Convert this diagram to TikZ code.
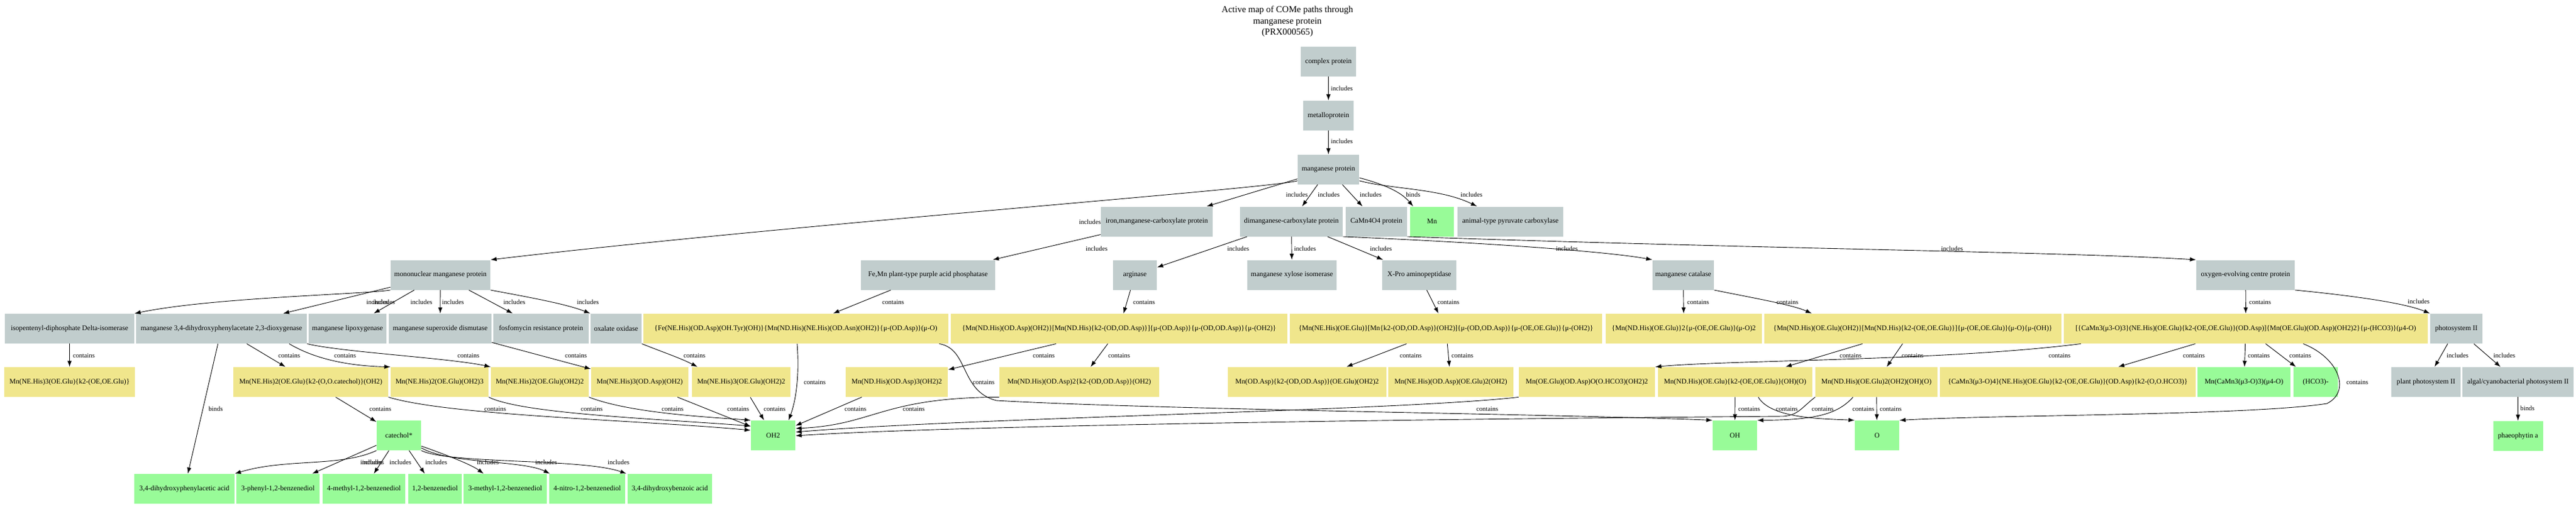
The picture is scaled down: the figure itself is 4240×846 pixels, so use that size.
\documentclass[tikz,border=0pt]{standalone}
\usepackage{fontspec}
\setmainfont{Liberation Serif}
\usepackage{tikz}
\usetikzlibrary{positioning,arrows.meta}

\definecolor{protgrey}{RGB}{193,205,205}
\definecolor{cmplxyellow}{RGB}{240,230,140}
\definecolor{chemgreen}{RGB}{152,251,152}

\tikzset{
  prot/.style={rectangle, fill=protgrey, minimum height=49pt, inner sep=0pt, font=\fontsize{11.7pt}{14pt}\selectfont},
  cmplx/.style={prot, fill=cmplxyellow},
  chem/.style={prot, fill=chemgreen},
  lbl/.style={inner sep=0pt, font=\fontsize{10.8pt}{13pt}\selectfont},
  >={Latex[length=10pt,width=7pt]}
}

\begin{document}
\begin{tikzpicture}[x=1pt, y=1pt, line width=0.9pt]
      \useasboundingbox (0,0) rectangle (4240,-846);

      \node[align=center, font=\fontsize{15pt}{18.7pt}\selectfont] (title) at (2119,-35.5) {Active map of COMe paths through\\manganese protein\\(PRX000565)};
      \node[prot, minimum width=91pt] (complex) at (2186.5,-101.5) {complex protein};
      \node[prot, minimum width=83pt] (metallo) [below = 39pt of complex] {metalloprotein};
      \node[prot, minimum width=101pt] (mp) [below = 39pt of metallo] {manganese protein};

      \node[prot, minimum width=184pt] (ironMn) at (1904,-365) {iron,manganese-carboxylate protein};
      \node[prot, minimum width=169pt] (dimn) at (2125.5,-365) {dimanganese-carboxylate protein};
      \node[prot, minimum width=101pt] (camn) at (2265.5,-365) {CaMn4O4 protein};
      \node[chem, minimum width=72pt] (mn) at (2357,-365) {Mn};
      \node[prot, minimum width=174pt] (pyruv) at (2486,-365) {animal-type pyruvate carboxylase};

      \node[prot, minimum width=164pt] (mono) at (725,-453) {mononuclear manganese protein};
      \node[prot, minimum width=221pt] (femnpap) at (1527.5,-453) {Fe,Mn plant-type purple acid phosphatase};
      \node[prot, minimum width=72pt] (arg) at (1868,-453) {arginase};
      \node[prot, minimum width=147pt] (xyl) at (2126.5,-453) {manganese xylose isomerase};
      \node[prot, minimum width=122pt] (xpro) at (2336,-453) {X-Pro aminopeptidase};
      \node[prot, minimum width=101pt] (cat) at (2770.5,-453) {manganese catalase};
      \node[prot, minimum width=162pt] (oec) at (3696,-453) {oxygen-evolving centre protein};

      \node[prot, minimum width=213pt] (ipp) at (114.5,-541.5) {isopentenyl-diphosphate Delta-isomerase};
      \node[prot, minimum width=281pt] (dhpao) at (364.5,-541.5) {manganese 3,4-dihydroxyphenylacetate 2,3-dioxygenase};
      \node[prot, minimum width=128pt] (lox) at (572,-541.5) {manganese lipoxygenase};
      \node[prot, minimum width=169pt] (sod) at (724.5,-541.5) {manganese superoxide dismutase};
      \node[prot, minimum width=157pt] (fos) at (890.5,-541.5) {fosfomycin resistance protein};
      \node[prot, minimum width=84pt] (oxo) at (1014,-541.5) {oxalate oxidase};
      \node[cmplx, minimum width=502pt] (cFe) at (1310,-541.5) {\{Fe(NE.His)(OD.Asp)(OH.Tyr)(OH)\}\{Mn(ND.His)(NE.His)(OD.Asn)(OH2)\}\{μ-(OD.Asp)\}(μ-O)};
      \node[cmplx, minimum width=554pt] (cArg) at (1842,-541.5) {\{Mn(ND.His)(OD.Asp)(OH2)\}[Mn(ND.His)\{k2-(OD,OD.Asp)\}]\{μ-(OD.Asp)\}\{μ-(OD,OD.Asp)\}\{μ-(OH2)\}};
      \node[cmplx, minimum width=514pt] (cXpro) at (2380,-541.5) {\{Mn(NE.His)(OE.Glu)\}[Mn\{k2-(OD,OD.Asp)\}(OH2)]\{μ-(OD,OD.Asp)\}\{μ-(OE,OE.Glu)\}\{μ-(OH2)\}};
      \node[cmplx, minimum width=257pt] (cCat1) at (2771.5,-541.5) {\{Mn(ND.His)(OE.Glu)\}2\{μ-(OE,OE.Glu)\}(μ-O)2};
      \node[cmplx, minimum width=489pt] (cCat2) at (3148.5,-541.5) {\{Mn(ND.His)(OE.Glu)(OH2)\}[Mn(ND.His)\{k2-(OE,OE.Glu)\}]\{μ-(OE,OE.Glu)\}(μ-O)\{μ-(OH)\}};
      \node[cmplx, minimum width=599pt] (cOec) at (3696.5,-541.5) {[\{CaMn3(μ3-O)3\}(NE.His)(OE.Glu)\{k2-(OE,OE.Glu)\}(OD.Asp)]\{Mn(OE.Glu)(OD.Asp)(OH2)2\}\{μ-(HCO3)\}(μ4-O)};
      \node[prot, minimum width=86pt] (psii) at (4043,-541.5) {photosystem II};

      \node[cmplx, minimum width=215pt] (m1) at (114.5,-629.5) {Mn(NE.His)3(OE.Glu)\{k2-(OE,OE.Glu)\}};
      \node[cmplx, minimum width=255pt] (m2) at (511.5,-629.5) {Mn(NE.His)2(OE.Glu)\{k2-(O,O.catechol)\}(OH2)};
      \node[cmplx, minimum width=161pt] (m3) at (723.5,-629.5) {Mn(NE.His)2(OE.Glu)(OH2)3};
      \node[cmplx, minimum width=161pt] (m4) at (888.5,-629.5) {Mn(NE.His)2(OE.Glu)(OH2)2};
      \node[cmplx, minimum width=160pt] (m5) at (1053,-629.5) {Mn(NE.His)3(OD.Asp)(OH2)};
      \node[cmplx, minimum width=162pt] (m6) at (1220,-629.5) {Mn(NE.His)3(OE.Glu)(OH2)2};
      \node[cmplx, minimum width=168pt] (m7) at (1476,-629.5) {Mn(ND.His)(OD.Asp)3(OH2)2};
      \node[cmplx, minimum width=263pt] (m8) at (1776.5,-629.5) {Mn(ND.His)(OD.Asp)2\{k2-(OD,OD.Asp)\}(OH2)};
      \node[cmplx, minimum width=261pt] (m9) at (2151.5,-629.5) {Mn(OD.Asp)\{k2-(OD,OD.Asp)\}(OE.Glu)(OH2)2};
      \node[cmplx, minimum width=206pt] (m10) at (2388,-629.5) {Mn(NE.His)(OD.Asp)(OE.Glu)2(OH2)};
      \node[cmplx, minimum width=224pt] (m11) at (2612,-629.5) {Mn(OE.Glu)(OD.Asp)O(O.HCO3)(OH2)2};
      \node[cmplx, minimum width=254pt] (m12) at (2856,-629.5) {Mn(ND.His)(OE.Glu)\{k2-(OE,OE.Glu)\}(OH)(O)};
      \node[cmplx, minimum width=201pt] (m13) at (3088.5,-629.5) {Mn(ND.His)(OE.Glu)2(OH2)(OH)(O)};
      \node[cmplx, minimum width=421pt] (m14) at (3403.5,-629.5) {\{CaMn3(μ3-O)4\}(NE.His)(OE.Glu)\{k2-(OE,OE.Glu)\}(OD.Asp)\{k2-(O,O.HCO3)\}};
      \node[chem, minimum width=153pt] (m15) at (3693.5,-629.5) {Mn(CaMn3(μ3-O)3)(μ4-O)};
      \node[chem, minimum width=73pt] (m16) at (3811.5,-629.5) {(HCO3)-};
      \node[prot, minimum width=114pt] (ppsii) at (3993,-629.5) {plant photosystem II};
      \node[prot, minimum width=183pt] (apsii) at (4144.5,-629.5) {algal/cyanobacterial photosystem II};

      \node[chem, minimum width=73pt] (catechol) at (656.5,-717.5) {catechol*};
      \node[chem, minimum width=73pt] (OH2) at (1272.5,-717.5) {OH2};
      \node[chem, minimum width=73pt] (OH) at (2855.5,-717.5) {OH};
      \node[chem, minimum width=73pt] (O) at (3089.5,-717.5) {O};
      \node[chem, minimum width=82pt] (phaeo) [below = 39pt of apsii] {phaeophytin a};

      \node[chem, minimum width=165pt] (c1) at (303.5,-805.5) {3,4-dihydroxyphenylacetic acid};
      \node[chem, minimum width=137pt] (c2) at (457.5,-805.5) {3-phenyl-1,2-benzenediol};
      \node[chem, minimum width=136pt] (c3) at (599,-805.5) {4-methyl-1,2-benzenediol};
      \node[chem, minimum width=88pt] (c4) at (716,-805.5) {1,2-benzenediol};
      \node[chem, minimum width=137pt] (c5) at (831.5,-805.5) {3-methyl-1,2-benzenediol};
      \node[chem, minimum width=125pt] (c6) at (966.5,-805.5) {4-nitro-1,2-benzenediol};
      \node[chem, minimum width=139pt] (c7) at (1102.5,-805.5) {3,4-dihydroxybenzoic acid};

      % proteins
      \draw (complex) edge[->] (metallo);
      \draw (metallo) edge[->] (mp);
      \draw[->] (mp.200) .. controls (2100,-310) and (1300,-370) .. (mono.north east);
      \draw (mp) edge[->] (ironMn);
      \draw (mp) edge[->] (dimn);
      \draw (mp) edge[->] (camn);
      \draw[->] (mp.345) .. controls (2275,-303) and (2305,-315) .. (mn.north -| 2326,0);
      \draw[->] (mp.340) .. controls (2290,-312) and (2370,-310) .. (pyruv.north -| 2431,0);
      \draw (ironMn) edge[->] (femnpap);
      \draw (dimn) edge[->] (arg);
      \draw (dimn) edge[->] (xyl);
      \draw (dimn) edge[->] (xpro);
      \draw[->] (dimn.south east) .. controls (2450,-400) and (2650,-415) .. (cat.north west);
      \draw[->] (camn.south east) .. controls (2900,-410) and (3400,-415) .. (oec.north west);
      \draw[->] (mono.south west) .. controls (600,-485) and (350,-490) .. (ipp.north east);
      \draw (mono) edge[->] (dhpao);
      \draw (mono) edge[->] (lox);
      \draw (mono) edge[->] (sod);
      \draw (mono) edge[->] (fos);
      \draw[->] (mono.south east) .. controls (860,-488) and (930,-500) .. (oxo.north west);
      \draw (femnpap) edge[->] (cFe);
      \draw (arg) edge[->] (cArg);
      \draw (xpro) edge[->] (cXpro);
      \draw (cat) edge[->] (cCat1);
      \draw[->] (cat.south east) .. controls (2880,-490) and (2950,-502) .. (cCat2.north -| 2982,0);
      \draw (oec) edge[->] (cOec);
      \draw[->] (oec.south east) .. controls (3880,-488) and (3960,-500) .. (psii.north west);
      \draw (psii) edge[->] (ppsii);
      \draw (psii) edge[->] (apsii);
      \draw (apsii) edge[->] (phaeo);

      % sites
      \draw (ipp) edge[->] (m1);
      \draw (dhpao) edge[->] (c1);
      \draw (dhpao) edge[->] (m2);
      \draw[->] (dhpao.south -| 476,0) .. controls (515,-590) and (570,-603) .. (m3.north west);
      \draw[->] (dhpao.south east) .. controls (560,-580) and (740,-590) .. (m4.north west);
      \draw (sod) edge[->] (m5);
      \draw[->] (oxo.south east) .. controls (1090,-580) and (1120,-590) .. (m6.north -| 1148,0);
      \draw[->] (cFe.south -| 1312,0) .. controls (1316,-620) and (1310,-660) .. (OH2.north -| 1298,0);
      \draw[->] (cFe.south -| 1546,0) .. controls (1595,-575) and (1580,-645) .. (1640,-660) .. controls (1900,-675) and (2600,-683) .. (OH.north west);
      \draw (cArg) edge[->] (m7);
      \draw (cArg) edge[->] (m8);
      \draw (cXpro) edge[->] (m9);
      \draw (cXpro) edge[->] (m10);
      \draw (cCat2) edge[->] (m12);
      \draw (cCat2) edge[->] (m13);
      \draw[->] (cOec.south -| 3425,0) .. controls (3200,-595) and (2850,-593) .. (m11.north east);
      \draw (cOec) edge[->] (m14);
      \draw (cOec) edge[->] (m15);
      \draw (cOec) edge[->] (m16);
      \draw[->] (cOec.south -| 3791,0) .. controls (3850,-590) and (3870,-645) .. (3830,-665) .. controls (3700,-685) and (3300,-683) .. (O.north east);

      % ligands
      \draw (m2) edge[->] (catechol);
      \draw[->] (m2.south east) .. controls (740,-685) and (1050,-692) .. (OH2.west |- 0,-709);
      \draw[->] (m3.south east) .. controls (860,-682) and (1080,-690) .. (OH2.west |- 0,-702);
      \draw[->] (m4.south east) .. controls (1040,-682) and (1180,-688) .. (OH2.north west);
      \draw (m5) edge[->] (OH2);
      \draw (m6) edge[->] (OH2);
      \draw (m7) edge[->] (OH2);
      \draw[->] (m8.south west) .. controls (1450,-655) and (1440,-700) .. (OH2.east |- 0,-706);
      \draw[->] (m11.south west) .. controls (2300,-677) and (1600,-688) .. (OH2.east |- 0,-712);
      \draw[->] (m13.south west) .. controls (2965,-672) and (2960,-684) .. (2935,-686) .. controls (2400,-690) and (1600,-700) .. (OH2.east |- 0,-718);
      \draw (m12) edge[->] (OH);
      \draw[->] (m12.south -| 2894,0) .. controls (2915,-690) and (3000,-690) .. (O.north west);
      \draw[->] (m13.south -| 3050,0) .. controls (3025,-682) and (2990,-692) .. (OH.north east);
      \draw (m13) edge[->] (O);
      \draw[->] (catechol.south west) .. controls (560,-770) and (470,-755) .. (c1.north east);
      \draw (catechol) edge[->] (c2);
      \draw (catechol) edge[->] (c3);
      \draw (catechol) edge[->] (c4);
      \draw[->] (catechol.east |- 0,-735) .. controls (730,-748) and (775,-765) .. (c5.north -| 796,0);
      \draw[->] (catechol.east |- 0,-738) .. controls (740,-765) and (860,-758) .. (c6.north -| 905,0);
      \draw[->] (catechol.south east) .. controls (740,-765) and (960,-755) .. (c7.north -| 1031,0);

      % labels
      \node[lbl] (iComplex) at (2208.5,-145.7) {includes};
      \node[lbl] (iMetallo) at (2208.5,-233) {includes};
      \node[lbl] (iMono) at (1794,-366) {includes};
      \node[lbl] (iIronMn) at (2134.5,-321) {includes};
      \node[lbl] (iDimn) at (2187,-321) {includes};
      \node[lbl] (iCamn) at (2256,-321) {includes};
      \node[lbl] (bMn) at (2326,-321) {binds};
      \node[lbl] (iPyruv) at (2422,-321) {includes};
      \node[lbl] (iFeMnPap) at (1805,-410) {includes};
      \node[lbl] (iArg) at (2038,-410) {includes};
      \node[lbl] (iXyl) at (2148,-410) {includes};
      \node[lbl] (iXpro) at (2273,-410) {includes};
      \node[lbl] (iCat) at (2579,-410) {includes};
      \node[lbl] (iOec) at (3213,-410) {includes};
      \node[lbl] (iIpp) at (621,-498) {includes};
      \node[lbl] (iDhpao) at (632,-498) {includes};
      \node[lbl] (iLox) at (693.5,-498) {includes};
      \node[lbl] (iSod) at (745.5,-498) {includes};
      \node[lbl] (iFos) at (846.5,-498) {includes};
      \node[lbl] (iOxo) at (967.5,-498) {includes};
      \node[lbl] (iPsii) at (3981,-497) {includes};
      \node[lbl] (iPpsii) at (4045,-586) {includes};
      \node[lbl] (iApsii) at (4122,-586) {includes};
      \node[lbl] (bPhaeo) at (4160,-673) {binds};
      \node[lbl] (iC1) at (611,-762) {includes};
      \node[lbl] (iC2) at (614,-762) {includes};
      \node[lbl] (iC3) at (659,-762) {includes};
      \node[lbl] (iC4) at (718,-762) {includes};
      \node[lbl] (iC5) at (803,-762) {includes};
      \node[lbl] (iC6) at (899,-762) {includes};
      \node[lbl] (iC7) at (1018,-762) {includes};

      \node[lbl] (cFeMnPap) at (1470,-498) {contains};
      \node[lbl] (cArgL) at (1883,-498) {contains};
      \node[lbl] (cXproL) at (2384,-498) {contains};
      \node[lbl] (cCatA) at (2795,-498) {contains};
      \node[lbl] (cCatB) at (2942,-498) {contains};
      \node[lbl] (cOecL) at (3720,-498) {contains};
      \node[lbl] (cM1) at (138,-586) {contains};
      \node[lbl] (bC1) at (355,-674) {binds};
      \node[lbl] (cM2) at (476,-586) {contains};
      \node[lbl] (cM3) at (568,-586) {contains};
      \node[lbl] (cM4) at (771,-586) {contains};
      \node[lbl] (cM5) at (948,-586) {contains};
      \node[lbl] (cM6) at (1143,-586) {contains};
      \node[lbl] (cFeOH2) at (1341,-630) {contains};
      \node[lbl] (cFeOH) at (1619,-630) {contains};
      \node[lbl] (cM7) at (1718,-586) {contains};
      \node[lbl] (cM8) at (1842,-586) {contains};
      \node[lbl] (cM9) at (2322,-586) {contains};
      \node[lbl] (cM10) at (2407,-586) {contains};
      \node[lbl] (cM12) at (3046,-586) {contains};
      \node[lbl] (cM13) at (3148,-586) {contains};
      \node[lbl] (cM11) at (3390,-586) {contains};
      \node[lbl] (cM14) at (3611,-586) {contains};
      \node[lbl] (cM15) at (3718,-586) {contains};
      \node[lbl] (cM16) at (3786,-586) {contains};
      \node[lbl] (cOecO) at (3880,-630) {contains};
      \node[lbl] (cCatechol) at (626,-674) {contains};
      \node[lbl] (cM2OH2) at (815,-674) {contains};
      \node[lbl] (cM3OH2) at (974,-674) {contains};
      \node[lbl] (cM4OH2) at (1107,-674) {contains};
      \node[lbl] (cM5OH2) at (1215,-674) {contains};
      \node[lbl] (cM6OH2) at (1275,-674) {contains};
      \node[lbl] (cM7OH2) at (1408,-674) {contains};
      \node[lbl] (cM8OH2) at (1504,-674) {contains};
      \node[lbl] (cM11OH2) at (2448,-674) {contains};
      \node[lbl] (cM12OH) at (2879,-674) {contains};
      \node[lbl] (cM12O) at (2941,-674) {contains};
      \node[lbl] (cM13OH2) at (3000,-674) {contains};
      \node[lbl] (cM13OH) at (3067,-674) {contains};
      \node[lbl] (cM13O) at (3112,-674) {contains};
\end{tikzpicture}
\end{document}
